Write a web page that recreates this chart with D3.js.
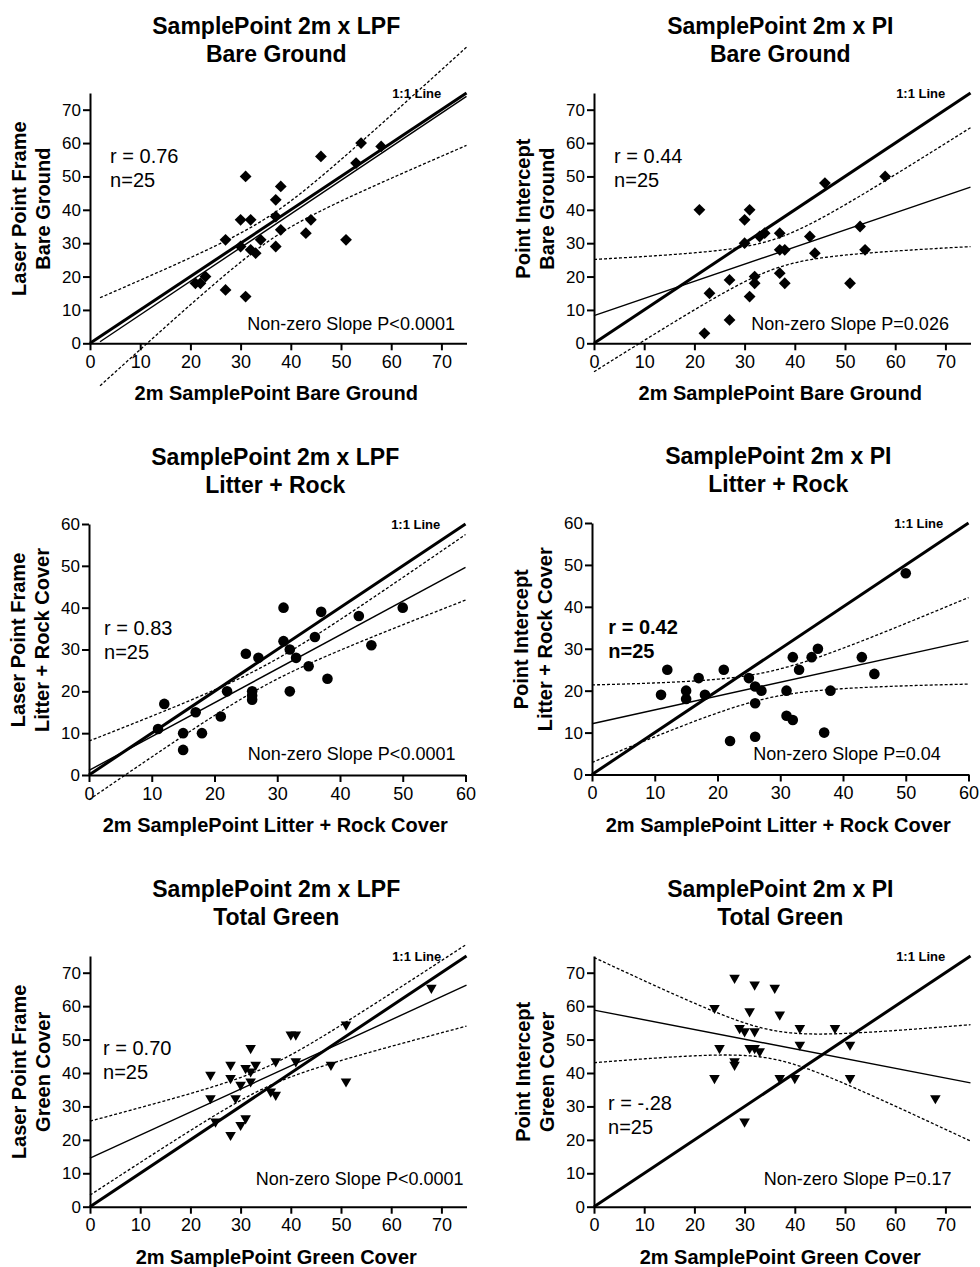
<!DOCTYPE html>
<html><head><meta charset="utf-8">
<script src="https://cdn.jsdelivr.net/npm/d3@7"></script>
<style>
body{margin:0;background:#fff}
svg{display:block}
text{font-family:"Liberation Sans",Arial,Helvetica,sans-serif;fill:#000}
</style>
</head><body>
<svg id="chart" width="980" height="1267"></svg>
<script>
// ---------------- DATA ----------------
const xBare    = [21,22,23,27,27,30,30,31,31,32,32,33,34,37,37,37,38,38,43,44,46,51,53,54,58];
const yBareLPF = [18,18,20,31,16,37,29,50,14,37,28,27,31,43,38,29,47,34,33,37,56,31,54,60,59];
const yBarePI  = [40, 3,15,19, 7,37,30,40,14,18,20,32,33,33,28,21,28,18,32,27,48,18,35,28,50];

const xLitter    = [11,12,15,15,17,18,21,22,25,26,26,26,27,31,31,32,32,33,35,36,37,38,43,45,50];
const yLitterLPF = [11,17,10, 6,15,10,14,20,29,20,19,18,28,40,32,30,20,28,26,33,39,23,38,31,40];
const yLitterPI  = [19,25,20,18,23,19,25, 8,23,21,17, 9,20,20,14,28,13,25,28,30,10,20,28,24,48];

const xGreen    = [24,24,25,28,28,28,29,30,30,31,31,32,32,32,33,36,37,37,40,41,41,48,51,51,68];
const yGreenLPF = [39,32,25,42,38,21,32,36,24,41,26,47,40,37,42,34,43,33,51,51,43,42,54,37,65];
const yGreenPI  = [59,38,47,68,43,42,53,52,25,58,47,66,52,47,46,65,57,38,38,53,48,53,48,38,32];

const ticks75 = [0,10,20,30,40,50,60,70];
const ticks60 = [0,10,20,30,40,50,60];

const titles = [
  ["SamplePoint 2m x LPF","Bare Ground"],
  ["SamplePoint 2m x PI","Bare Ground"],
  ["SamplePoint 2m x LPF","Litter + Rock"],
  ["SamplePoint 2m x PI","Litter + Rock"],
  ["SamplePoint 2m x LPF","Total Green"],
  ["SamplePoint 2m x PI","Total Green"]
];
const yTitles = [
  ["Laser Point Frame","Bare Ground"],
  ["Point Intercept","Bare Ground"],
  ["Laser Point Frame","Litter + Rock Cover"],
  ["Point Intercept","Litter + Rock Cover"],
  ["Laser Point Frame","Green Cover"],
  ["Point Intercept","Green Cover"]
];
const xTitles = [
  "2m SamplePoint Bare Ground","2m SamplePoint Bare Ground",
  "2m SamplePoint Litter + Rock Cover","2m SamplePoint Litter + Rock Cover",
  "2m SamplePoint Green Cover","2m SamplePoint Green Cover"
];
const rLabels = ["r = 0.76","r = 0.44","r = 0.83","r = 0.42","r = 0.70","r = -.28"];
const nLabels = ["n=25","n=25","n=25","n=25","n=25","n=25"];
const pLabels = ["Non-zero Slope P<0.0001","Non-zero Slope P=0.026","Non-zero Slope P<0.0001",
                 "Non-zero Slope P=0.04","Non-zero Slope P<0.0001","Non-zero Slope P=0.17"];
const lineLabel = "1:1 Line";
const T_CRIT = 2.0687; // t(0.975, df = 23)

// ---------------- LAYOUT ----------------
const layout = [
  {left:90,  top:93,  bottom:343.3, max:75, ticks:ticks75, fitStart:2, sym:"diamond", rPos:[4,53.9],  pPos:[72.7,4],   rBold:false},
  {left:594, top:93,  bottom:343.3, max:75, ticks:ticks75, fitStart:0, sym:"diamond", rPos:[4,53.9],  pPos:[70.7,4],   rBold:false},
  {left:89,  top:524, bottom:775,   max:60, ticks:ticks60, fitStart:0, sym:"circle",  rPos:[2.4,33.5],pPos:[58.4,3.6], rBold:false},
  {left:592, top:523, bottom:774.5, max:60, ticks:ticks60, fitStart:0, sym:"circle",  rPos:[2.6,33.5],pPos:[55.6,3.4], rBold:true},
  {left:90,  top:956, bottom:1206.7,max:75, ticks:ticks75, fitStart:0, sym:"tri",     rPos:[2.6,45.4],pPos:[74.4,6.5], rBold:false},
  {left:594, top:956, bottom:1206.7,max:75, ticks:ticks75, fitStart:0, sym:"tri",     rPos:[2.8,29],  pPos:[71.2,6.5], rBold:false}
];
const plotW = 376.5;
const series = [
  [xBare, yBareLPF],[xBare, yBarePI],
  [xLitter, yLitterLPF],[xLitter, yLitterPI],
  [xGreen, yGreenLPF],[xGreen, yGreenPI]
];

const symDiamond = {draw(ctx){const h=5.9;ctx.moveTo(0,-h);ctx.lineTo(h,0);ctx.lineTo(0,h);ctx.lineTo(-h,0);ctx.closePath();}};
const symTri = {draw(ctx){const w=5.3,h=4.6;ctx.moveTo(-w,-h);ctx.lineTo(w,-h);ctx.lineTo(0,h);ctx.closePath();}};
const symbols = {
  diamond: d3.symbol().type(symDiamond)(),
  circle: d3.symbol().type(d3.symbolCircle).size(Math.PI*5.3*5.3)(),
  tri: d3.symbol().type(symTri)()
};

const svg = d3.select("#chart");

series.forEach(([xs, ys], i) => {
  const L = layout[i];
  const x = d3.scaleLinear().domain([0, L.max]).range([L.left, L.left + plotW]);
  const y = d3.scaleLinear().domain([0, L.max]).range([L.bottom, L.top]);
  const g = svg.append("g");
  const cx = L.left + plotW/2;

  // regression
  const n = xs.length;
  const mx = d3.mean(xs), my = d3.mean(ys);
  let sxx=0, sxy=0, syy=0;
  for (let k=0;k<n;k++){const dx=xs[k]-mx, dy=ys[k]-my; sxx+=dx*dx; sxy+=dx*dy; syy+=dy*dy;}
  const b = sxy/sxx, a = my - b*mx;
  const s = Math.sqrt((syy - sxy*sxy/sxx)/(n-2));
  const xsamp = d3.range(L.fitStart, L.max + 0.001, 0.25);
  const half = v => T_CRIT*s*Math.sqrt(1/n + (v-mx)*(v-mx)/sxx);
  const line = d3.line().x(d => x(d[0])).y(d => y(d[1]));

  // axes
  const ax = g.append("g").attr("transform", `translate(0,${L.bottom})`)
    .call(d3.axisBottom(x).tickValues(L.ticks).tickSize(7).tickSizeOuter(0).tickPadding(5).tickFormat(d3.format("d")));
  const ay = g.append("g").attr("transform", `translate(${L.left},0)`)
    .call(d3.axisLeft(y).tickValues(L.ticks).tickSize(7).tickSizeOuter(0).tickPadding(2).tickFormat(d3.format("d")));
  [ax, ay].forEach(a2 => {
    a2.select(".domain").attr("stroke","#000").attr("stroke-width",2);
    a2.selectAll(".tick line").attr("stroke","#000").attr("stroke-width",2);
    a2.selectAll("text").attr("fill","#000").style("font-family",'"Liberation Sans",Arial,sans-serif');
  });
  ax.selectAll("text").style("font-size","18px");
  ay.selectAll("text").style("font-size","17px");

  // confidence bands
  [1,-1].forEach(sg => {
    g.append("path").datum(xsamp.map(v => [v, a + b*v + sg*half(v)]))
      .attr("d", line).attr("fill","none").attr("stroke","#000")
      .attr("stroke-width",1.3).attr("stroke-dasharray","3,2");
  });
  // fit line
  g.append("path").datum([[L.fitStart, a + b*L.fitStart],[L.max, a + b*L.max]])
    .attr("d", line).attr("fill","none").attr("stroke","#000").attr("stroke-width",1.4);
  // 1:1 line
  g.append("path").datum([[0,0],[L.max,L.max]])
    .attr("d", line).attr("fill","none").attr("stroke","#000").attr("stroke-width",3);

  // points
  g.append("g").selectAll("path").data(xs.map((v,k)=>[v, ys[k]])).join("path")
    .attr("d", symbols[L.sym])
    .attr("transform", d => `translate(${x(d[0])},${y(d[1])})`)
    .attr("fill","#000");

  // 1:1 label
  g.append("text").attr("x", x(L.max*0.933)).attr("y", L.top + 5)
    .attr("text-anchor","end").style("font-size","13px").style("font-weight","bold").text(lineLabel);

  // r / n
  const rt = g.append("text").attr("x", x(L.rPos[0])).attr("y", y(L.rPos[1]))
    .style("font-size","20px").style("font-weight", L.rBold ? "bold" : "normal");
  rt.append("tspan").attr("x", x(L.rPos[0])).text(rLabels[i]);
  rt.append("tspan").attr("x", x(L.rPos[0])).attr("dy", 24).text(nLabels[i]);
  // slope text
  g.append("text").attr("x", x(L.pPos[0])).attr("y", y(L.pPos[1]))
    .attr("text-anchor","end").style("font-size","18px").text(pLabels[i]);

  // title
  g.append("text").attr("x", cx - 2).attr("y", L.top - 59).attr("text-anchor","middle")
    .style("font-size","23px").style("font-weight","bold").text(titles[i][0]);
  g.append("text").attr("x", cx - 2).attr("y", L.top - 31).attr("text-anchor","middle")
    .style("font-size","23px").style("font-weight","bold").text(titles[i][1]);

  // x title
  g.append("text").attr("x", cx - 2).attr("y", L.bottom + 57).attr("text-anchor","middle")
    .style("font-size","20px").style("font-weight","bold").text(xTitles[i]);

  // y title
  const cy = (L.top + L.bottom)/2 - 9.5;
  const yt = g.append("g").attr("transform", `translate(${L.left - 64},${cy}) rotate(-90)`);
  yt.append("text").attr("x",0).attr("y",0).attr("text-anchor","middle")
    .style("font-size","20px").style("font-weight","bold").text(yTitles[i][0]);
  yt.append("text").attr("x",0).attr("y",23.5).attr("text-anchor","middle")
    .style("font-size","20px").style("font-weight","bold").text(yTitles[i][1]);
});
</script>
</body></html>
